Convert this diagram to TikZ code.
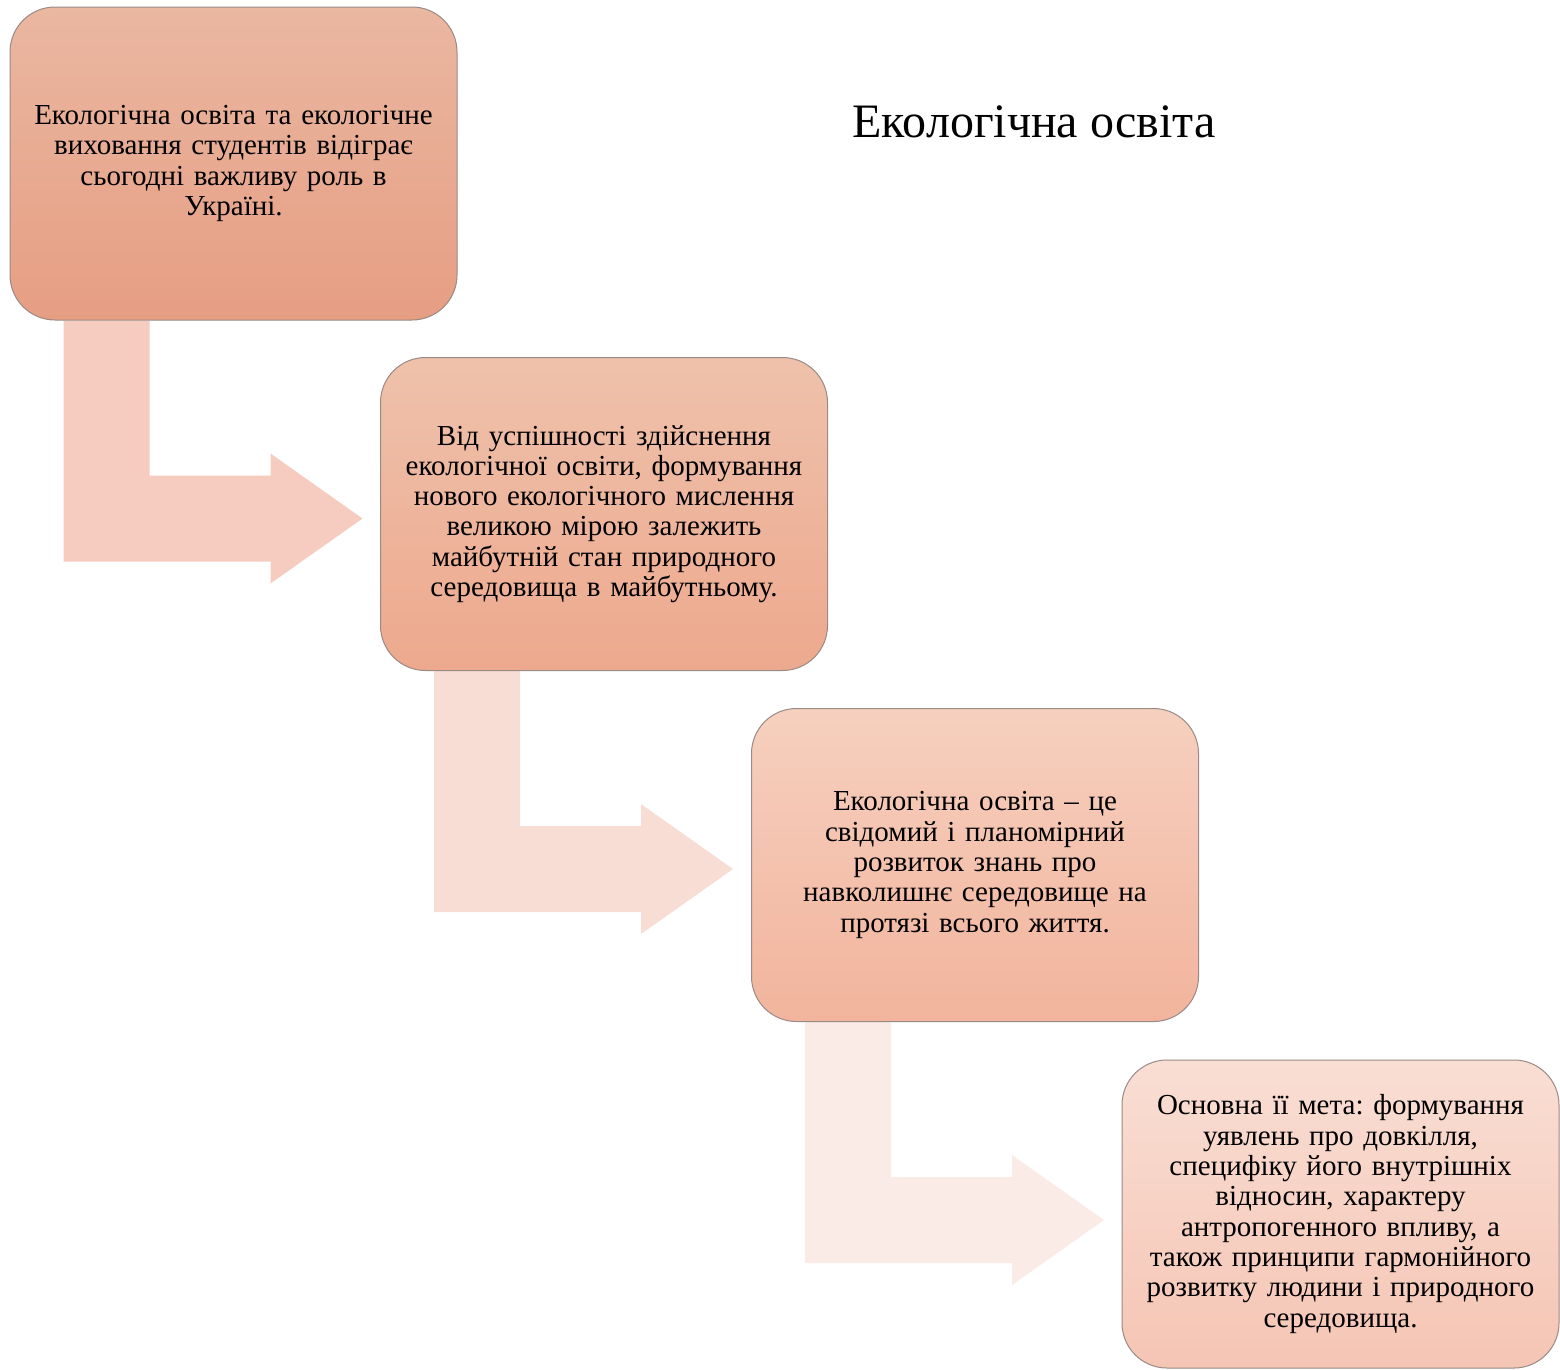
\documentclass[tikz,border=0pt]{standalone}
\usepackage{fontspec}
\setmainfont{Liberation Serif}
\usetikzlibrary{calc}
\pgfdeclarelayer{bg}
\pgfsetlayers{bg,main}
\frenchspacing
\definecolor{boxAtop}{HTML}{EAB7A1}
\definecolor{boxAbot}{HTML}{E69E83}
\definecolor{boxBtop}{HTML}{EFC1AB}
\definecolor{boxBbot}{HTML}{EDA98E}
\definecolor{boxCtop}{HTML}{F6D0BF}
\definecolor{boxCbot}{HTML}{F2B49C}
\definecolor{boxDtop}{HTML}{F9DED4}
\definecolor{boxDbot}{HTML}{F5C5B4}
\definecolor{arrA}{HTML}{F5CCBF}
\definecolor{arrB}{HTML}{F8DDD4}
\definecolor{arrC}{HTML}{FAEBE6}
\definecolor{edge}{HTML}{9A8A85}
\tikzset{
  stepbox/.style={draw=edge, line width=1pt, rounded corners=45pt,
    minimum width=447pt, minimum height=313pt, text width=430pt, align=center,
    inner sep=0pt, font=\fontsize{29}{30.3}\selectfont\frenchspacing},
  bentarrow/.style={fill=#1, draw=none},
}
\begin{document}
\begin{tikzpicture}[x=1pt,y=-1pt]
\useasboundingbox (0,0) rectangle (1560,1369);
\node[stepbox, top color=boxAtop, bottom color=boxAbot] (b1) at (233.5,163.5)
  {Екологічна освіта та екологічне\\виховання студентів відіграє\\сьогодні важливу роль в\\Україні.};
\node[stepbox, top color=boxBtop, bottom color=boxBbot] (b2) at (604,514)
  {Від успішності здійснення\\екологічної освіти, формування\\нового екологічного мислення\\великою мірою залежить\\майбутній стан природного\\середовища в майбутньому.};
\node[stepbox, top color=boxCtop, bottom color=boxCbot] (b3) at (975,865)
  {Екологічна освіта – це\\свідомий і планомірний\\розвиток знань про\\навколишнє середовище на\\протязі всього життя.};
\node[stepbox, top color=boxDtop, bottom color=boxDbot, minimum width=437pt, minimum height=308pt] (b4) at (1340.5,1214)
  {Основна її мета: формування\\уявлень про довкілля,\\специфіку його внутрішніх\\відносин, характеру\\антропогенного впливу, а\\також принципи гармонійного\\розвитку людини і природного\\середовища.};
\node[font=\fontsize{48}{55}\selectfont, inner sep=0pt] (title) at (1034,122) {Екологічна освіта};
\begin{pgfonlayer}{bg}
\foreach \src/\col in {b1/arrA, b2/arrB, b3/arrC}{
  \coordinate (o) at (\src.south west);
  \fill[bentarrow=\col] ($(o)+(54,0)$) -- ($(o)+(140,0)$) -- ($(o)+(140,155)$)
    -- ($(o)+(261,155)$) -- ($(o)+(261,133)$) -- ($(o)+(353,198)$)
    -- ($(o)+(261,263)$) -- ($(o)+(261,241)$) -- ($(o)+(54,241)$) -- cycle;
}
\end{pgfonlayer}
\end{tikzpicture}
\end{document}
